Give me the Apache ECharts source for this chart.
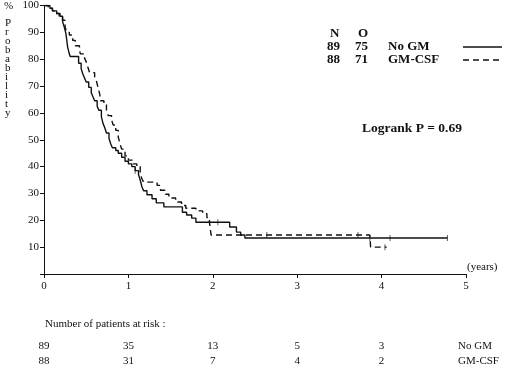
<!DOCTYPE html>
<html>
<head>
<meta charset="utf-8">
<script src="https://cdn.jsdelivr.net/npm/echarts@6/dist/echarts.min.js"></script>
<style>
  html, body { margin: 0; padding: 0; background: #fff; }
  #main { width: 520px; height: 366px; }
</style>
</head>
<body>
<div id="main"></div>
<script>
// survival curves: [years, % surviving]
const noGM = [
  [0, 100], [0.07, 99], [0.1, 98], [0.15, 97], [0.19, 96], [0.22, 94], [0.24, 92],
  [0.26, 89.5], [0.27, 87], [0.28, 84.5], [0.3, 82], [0.31, 81], [0.41, 78.5],
  [0.44, 76.5], [0.46, 74.5], [0.48, 73], [0.5, 71.5], [0.53, 69.5], [0.56, 67.5],
  [0.58, 66], [0.6, 64.5], [0.63, 62.5], [0.65, 61], [0.68, 58.5], [0.7, 56],
  [0.72, 54.5], [0.74, 52.5], [0.77, 50.5], [0.79, 48.5], [0.81, 47], [0.85, 46],
  [0.88, 45], [0.92, 43.5], [0.96, 42], [1.0, 41], [1.04, 40], [1.08, 38.5],
  [1.12, 37], [1.14, 35], [1.16, 32.5], [1.18, 31], [1.22, 29.5], [1.28, 28],
  [1.33, 26.5], [1.42, 25], [1.64, 23], [1.69, 22], [1.75, 20.8], [1.8, 19.3],
  [2.2, 17.5], [2.28, 15.6], [2.33, 14.5], [2.38, 13.4], [4.78, 13.4]
];
const gmCsf = [
  [0, 100], [0.05, 99], [0.1, 98], [0.14, 97], [0.18, 96], [0.22, 94.5], [0.25, 92],
  [0.27, 90], [0.3, 89], [0.34, 87], [0.37, 85], [0.42, 83.5], [0.43, 82],
  [0.48, 80.5], [0.5, 79], [0.52, 77], [0.54, 75], [0.6, 73.5], [0.62, 72],
  [0.64, 69.5], [0.66, 67], [0.67, 64.5], [0.71, 63.5], [0.74, 61], [0.76, 59],
  [0.8, 57.5], [0.82, 55.5], [0.85, 53.5], [0.88, 51], [0.9, 48.5], [0.92, 46.5],
  [0.96, 44], [1.0, 42.4], [1.05, 41], [1.1, 40], [1.14, 37.5], [1.16, 35.5],
  [1.18, 34.2], [1.34, 33], [1.38, 31.2], [1.44, 29.7], [1.48, 28.3], [1.56, 26.8],
  [1.63, 25.5], [1.68, 24.5], [1.8, 23.5], [1.88, 22.5], [1.93, 21], [1.96, 19.3],
  [1.98, 14.5], [3.86, 14.5], [3.87, 10], [4.06, 10]
];
// censored marks
const noGMCensor = [[1.08, 38.5], [2.06, 19.3], [3.86, 13.4], [4.1, 13.4], [4.78, 13.4]];
const gmCsfCensor = [[2.64, 14.5], [3.72, 14.5], [4.04, 10]];

// legend table
const legendRows = [
  { n: 89, o: 75, name: 'No GM', dash: false },
  { n: 88, o: 71, name: 'GM-CSF', dash: true }
];
const logrankText = 'Logrank P = 0.69';

// patients at risk
const riskYears = [0, 1, 2, 3, 4];
const riskNoGM = [89, 35, 13, 5, 3];
const riskGmCsf = [88, 31, 7, 4, 2];

const serif = '"Liberation Serif", "DejaVu Serif", serif';
const ink = '#111';

let myChart = echarts.init(document.getElementById('main'));
myChart.setOption({
    animation: false,
    backgroundColor: '#fff',
    grid: { left: 44, right: 54, top: 5, bottom: 92 },
    xAxis: {
        type: 'value',
        min: 0,
        max: 5,
        interval: 1,
        axisLine: { lineStyle: { color: ink, width: 1 } },
        axisTick: { show: true, length: 4, lineStyle: { color: ink } },
        axisLabel: { color: ink, fontSize: 11, fontFamily: serif, margin: 7 },
        splitLine: { show: false }
    },
    yAxis: {
        type: 'value',
        min: 0,
        max: 100,
        interval: 10,
        axisLine: { show: true, lineStyle: { color: ink, width: 1 } },
        axisTick: { show: true, length: 4, lineStyle: { color: ink } },
        axisLabel: {
            color: ink, fontSize: 11, fontFamily: serif, margin: 5,
            formatter: v => (v === 0 ? '' : v)
        },
        splitLine: { show: false }
    },
    series: [{
        name: 'No GM',
        type: 'line',
        step: 'end',
        symbol: 'none',
        data: noGM,
        lineStyle: { color: ink, width: 1.4 }
    }, {
        name: 'GM-CSF',
        type: 'line',
        step: 'end',
        symbol: 'none',
        data: gmCsf,
        lineStyle: { color: ink, width: 1.4, type: [6, 4] }
    }, {
        type: 'scatter',
        data: noGMCensor.concat(gmCsfCensor),
        symbol: 'rect',
        symbolSize: [1, 6],
        itemStyle: { color: '#333' }
    }]
});

// texts around the plot
const g = [];
g.push({ type: 'text', left: 4, top: 1, style: { text: '%', font: '11px ' + serif, fill: ink } });
g.push({
    type: 'text', left: 5, top: 18,
    style: { text: 'Probability'.split('').join('\n'), font: '11px ' + serif, fill: ink, lineHeight: 9, align: 'center', width: 8 }
});
g.push({ type: 'text', left: 467, top: 262, style: { text: '(years)', font: '11px ' + serif, fill: ink } });

const boldFont = 'bold 13px ' + serif;
g.push({ type: 'text', left: 330, top: 27, style: { text: 'N', font: boldFont, fill: ink } });
g.push({ type: 'text', left: 358, top: 27, style: { text: 'O', font: boldFont, fill: ink } });
legendRows.forEach((r, i) => {
    const y = 40 + i * 13;
    g.push({ type: 'text', left: 327, top: y, style: { text: String(r.n), font: boldFont, fill: ink } });
    g.push({ type: 'text', left: 355, top: y, style: { text: String(r.o), font: boldFont, fill: ink } });
    g.push({ type: 'text', left: 388, top: y, style: { text: r.name, font: boldFont, fill: ink } });
    g.push({
        type: 'line',
        shape: { x1: 463, y1: y + 7, x2: 502, y2: y + 7 },
        style: { stroke: ink, lineWidth: 1.4, lineDash: r.dash ? [6, 4] : null }
    });
});
g.push({ type: 'text', left: 362, top: 122, style: { text: logrankText, font: 'bold 13.5px ' + serif, fill: ink } });

g.push({ type: 'text', left: 45, top: 319, style: { text: 'Number of patients at risk :', font: '11px ' + serif, fill: ink } });
[riskNoGM, riskGmCsf].forEach((row, i) => {
    const y = 346 + i * 15;
    row.forEach((v, j) => {
        const px = myChart.convertToPixel({ xAxisIndex: 0 }, riskYears[j]);
        g.push({
            type: 'text', x: px, y: y,
            style: { text: String(v), font: '11px ' + serif, fill: ink, align: 'center', verticalAlign: 'middle' }
        });
    });
    g.push({
        type: 'text', x: 458, y: y,
        style: { text: legendRows[i].name, font: '11px ' + serif, fill: ink, verticalAlign: 'middle' }
    });
});
myChart.setOption({ graphic: g });
</script>
</body>
</html>
